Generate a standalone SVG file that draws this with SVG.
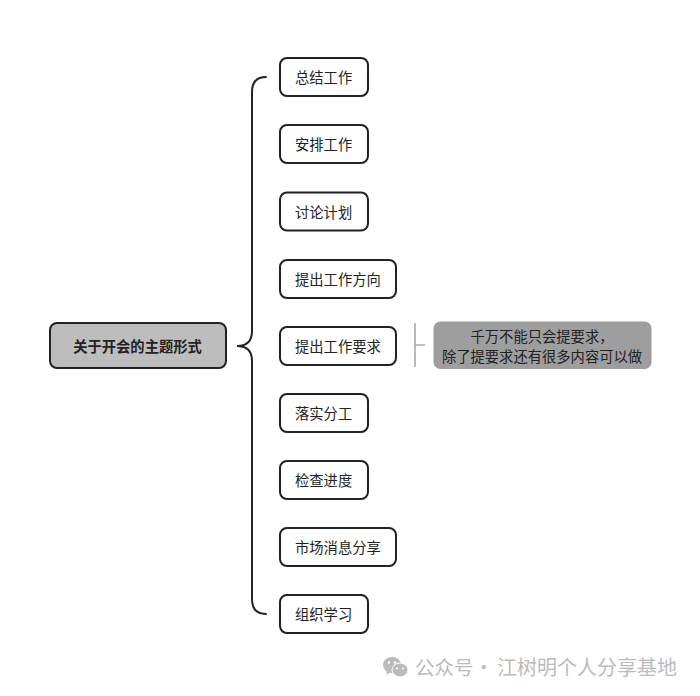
<svg xmlns="http://www.w3.org/2000/svg" width="700" height="696" viewBox="0 0 700 696">
<style>
text{font-family:"Noto Sans CJK SC","Noto Sans",sans-serif;font-size:14.3px;fill:#222;dominant-baseline:central}
.n rect{fill:#fff;stroke:#222;stroke-width:2}
.c{fill:none;stroke:#222;stroke-width:2;stroke-linecap:round}
.g{fill:none;stroke:#aaa;stroke-width:1.6}
</style>
<rect width="700" height="696" fill="#fff"/>
<g id="connectors">
<path class="c" d="M266 77C257 77 252 82 252 92V331C252 341 247 346 237 346C247 346 252 351 252 361V599C252 609 257 614 266 614"/>
<path class="g" d="M415 323V367M415 345H425"/>
</g>
<g id="root"><rect x="50" y="323" width="176" height="45" rx="7" fill="#bdbdbd" stroke="#222" stroke-width="2"/><text x="137.500" y="345" text-anchor="middle" font-weight="700" fill="#111">关于开会的主题形式</text></g>
<g id="n1" class="n"><rect x="280" y="58" width="88" height="38" rx="7"/><text x="295" y="76">总结工作</text></g>
<g id="n2" class="n"><rect x="280" y="125" width="88" height="38" rx="7"/><text x="295" y="143">安排工作</text></g>
<g id="n3" class="n"><rect x="280" y="192.500" width="88" height="38" rx="7"/><text x="295" y="211">讨论计划</text></g>
<g id="n4" class="n"><rect x="280" y="260" width="116" height="38" rx="7"/><text x="295" y="278">提出工作方向</text></g>
<g id="n5" class="n"><rect x="280" y="327" width="116" height="38" rx="7"/><text x="295" y="345">提出工作要求</text></g>
<g id="n6" class="n"><rect x="280" y="394" width="88" height="38" rx="7"/><text x="295" y="412">落实分工</text></g>
<g id="n7" class="n"><rect x="280" y="461" width="88" height="38" rx="7"/><text x="295" y="479">检查进度</text></g>
<g id="n8" class="n"><rect x="280" y="528" width="116" height="38" rx="7"/><text x="295" y="546">市场消息分享</text></g>
<g id="n9" class="n"><rect x="280" y="595" width="88" height="38" rx="7"/><text x="295" y="613">组织学习</text></g>
<g id="note"><rect x="433.500" y="321.500" width="218" height="47.500" rx="7" fill="#9e9e9e"/><text x="542" y="335.500" text-anchor="middle">千万不能只会提要求，</text><text x="542" y="355" text-anchor="middle">除了提要求还有很多内容可以做</text></g>
<g id="watermark" fill="#bbb">
<ellipse cx="392" cy="665" rx="9" ry="8"/><path d="M387 671l-1 4 5-3z"/>
<circle cx="389" cy="662.500" r="1.200" fill="#fff"/><circle cx="395" cy="662.500" r="1.200" fill="#fff"/>
<ellipse cx="400" cy="670" rx="8" ry="7" stroke="#fff"/>
<circle cx="397" cy="668.500" r="1" fill="#fff"/><circle cx="403" cy="668.500" r="1" fill="#fff"/>
<text x="415" y="666" style="font-size:19.500px;fill:#bbb">公众号<tspan x="474">·</tspan><tspan x="497" style="font-size:20px">江树明个人分享基地</tspan></text>
</g>
</svg>
